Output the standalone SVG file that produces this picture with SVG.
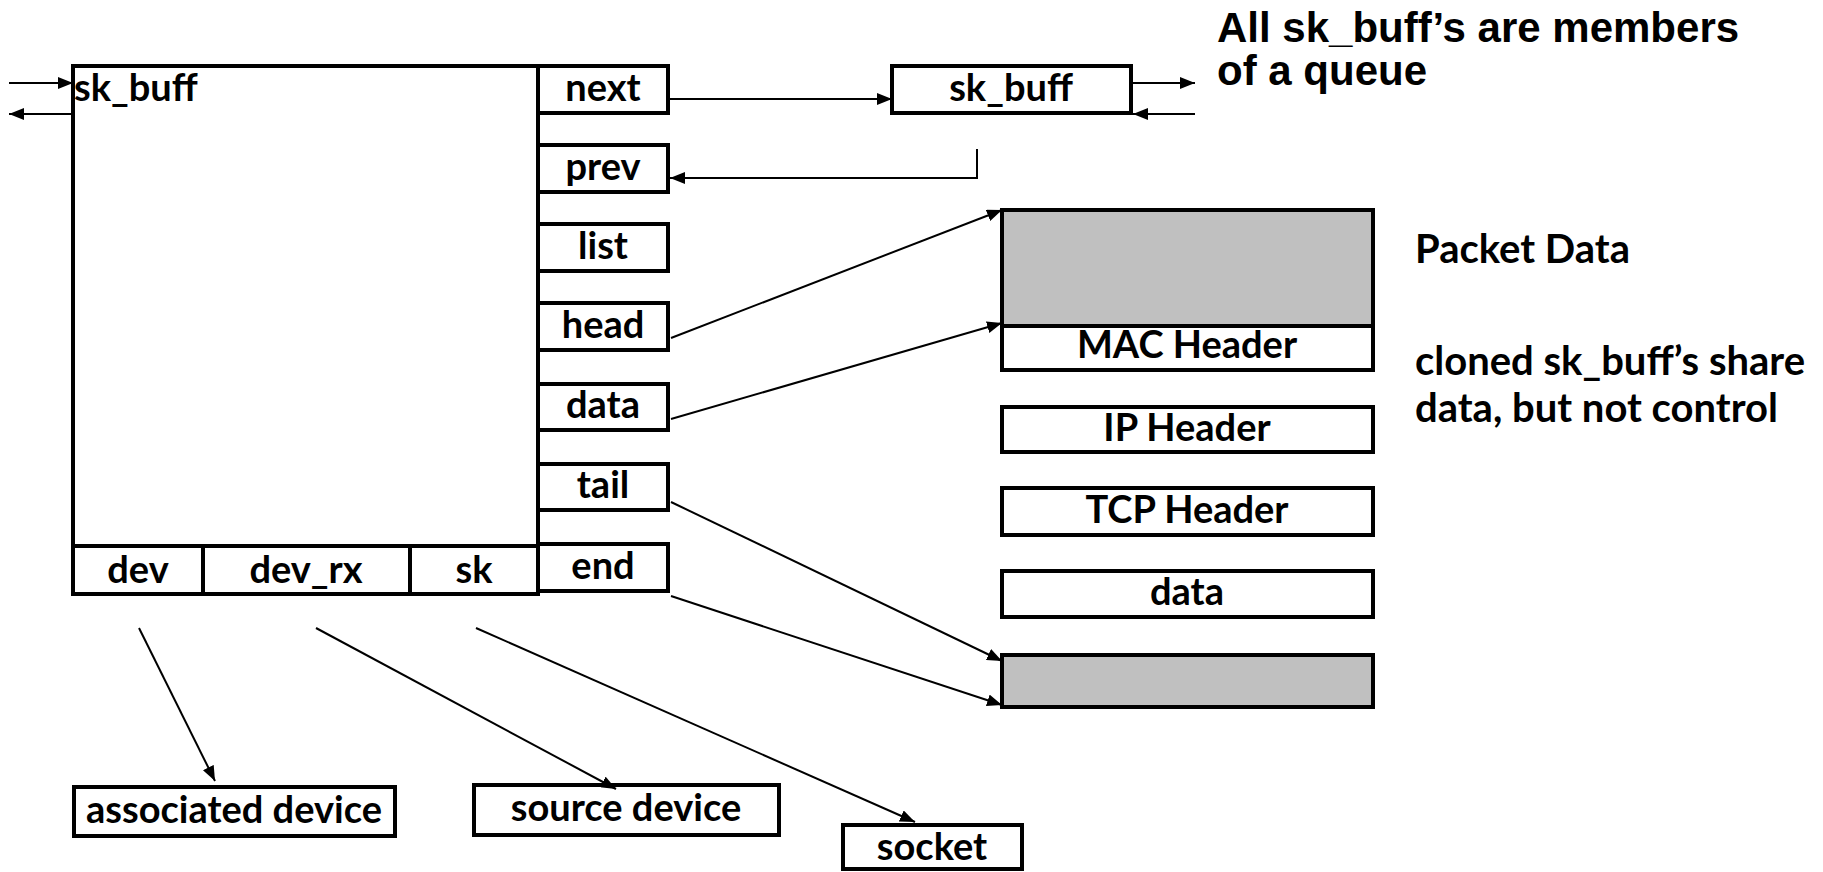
<svg xmlns="http://www.w3.org/2000/svg" width="1823" height="872" viewBox="0 0 1823 872">
  <style>
    .box { fill: #ffffff; stroke: #000000; stroke-width: 4; }
    .gray { fill: #c0c0c0; stroke: #000000; stroke-width: 4; }
    .lbl { font-family: Lato, "Open Sans", sans-serif; font-weight: bold; font-size: 38px; fill: #000000; text-anchor: middle; }
    .note { font-family: Lato, "Open Sans", sans-serif; font-weight: bold; font-size: 40px; fill: #000000; }
    .title { font-family: "Liberation Sans", Arial, sans-serif; font-weight: bold; font-size: 42px; fill: #000000; }
    .wire { fill: none; stroke: #000000; stroke-width: 2; }
  </style>
  <defs>
    <marker id="arr" markerUnits="userSpaceOnUse" markerWidth="16" markerHeight="12" refX="15" refY="6" orient="auto">
      <path d="M0,0 L15,6 L0,12 z" fill="#000000"/>
    </marker>
  </defs>
  <rect width="1823" height="872" fill="#ffffff"/>

  <!-- main sk_buff structure -->
  <g id="skbuff-main">
    <rect class="box" x="73" y="66" width="465" height="528"/>
    <line x1="73" y1="546" x2="538" y2="546" stroke="#000" stroke-width="4"/>
    <line x1="203" y1="546" x2="203" y2="594" stroke="#000" stroke-width="4"/>
    <line x1="410" y1="546" x2="410" y2="594" stroke="#000" stroke-width="4"/>
    <text class="lbl" x="74" y="101" style="text-anchor:start">sk_buff</text>
    <text class="lbl" x="138" y="583">dev</text>
    <text class="lbl" x="306" y="583">dev_rx</text>
    <text class="lbl" x="474" y="583">sk</text>
  </g>

  <!-- pointer fields -->
  <g id="field-next"><rect class="box" x="538" y="66" width="130" height="47"/><text class="lbl" x="603" y="101">next</text></g>
  <g id="field-prev"><rect class="box" x="538" y="145" width="130" height="47"/><text class="lbl" x="603" y="180">prev</text></g>
  <g id="field-list"><rect class="box" x="538" y="224" width="130" height="47"/><text class="lbl" x="603" y="259">list</text></g>
  <g id="field-head"><rect class="box" x="538" y="303" width="130" height="47"/><text class="lbl" x="603" y="338">head</text></g>
  <g id="field-data"><rect class="box" x="538" y="384" width="130" height="46"/><text class="lbl" x="603" y="418">data</text></g>
  <g id="field-tail"><rect class="box" x="538" y="464" width="130" height="46"/><text class="lbl" x="603" y="498">tail</text></g>
  <g id="field-end"><rect class="box" x="538" y="544" width="130" height="47"/><text class="lbl" x="603" y="579">end</text></g>

  <!-- neighbouring sk_buff in the queue -->
  <g id="skbuff-next">
    <rect class="box" x="892" y="66" width="239" height="47"/>
    <text class="lbl" x="1011" y="101">sk_buff</text>
  </g>

  <!-- packet data buffer -->
  <g id="packet-buffer">
    <rect class="gray" x="1002" y="210" width="371" height="116"/>
    <rect class="box" x="1002" y="326" width="371" height="44"/>
    <text class="lbl" x="1187" y="358">MAC Header</text>
  </g>
  <g id="ip-header"><rect class="box" x="1002" y="407" width="371" height="45"/><text class="lbl" x="1187" y="441">IP Header</text></g>
  <g id="tcp-header"><rect class="box" x="1002" y="488" width="371" height="47"/><text class="lbl" x="1187" y="523">TCP Header</text></g>
  <g id="payload"><rect class="box" x="1002" y="571" width="371" height="46"/><text class="lbl" x="1187" y="605">data</text></g>
  <g id="tailroom"><rect class="gray" x="1002" y="655" width="371" height="52"/></g>

  <!-- referenced objects -->
  <g id="assoc-device"><rect class="box" x="74" y="787" width="321" height="49"/><text class="lbl" x="234" y="823">associated device</text></g>
  <g id="source-device"><rect class="box" x="474" y="785" width="305" height="50"/><text class="lbl" x="626" y="821">source device</text></g>
  <g id="socket"><rect class="box" x="843" y="825" width="179" height="44"/><text class="lbl" x="932" y="860">socket</text></g>

  <!-- notes -->
  <g id="notes">
    <text class="title" x="1217" y="42">All sk_buff’s are members</text>
    <text class="title" x="1217" y="85">of a queue</text>
    <text class="note" x="1415" y="263">Packet Data</text>
    <text class="note" x="1415" y="375">cloned sk_buff’s share</text>
    <text class="note" x="1415" y="422">data, but not control</text>
  </g>

  <!-- connectors -->
  <g id="connectors">
    <line class="wire" x1="9" y1="83" x2="73" y2="83" marker-end="url(#arr)"/>
    <line class="wire" x1="73" y1="114" x2="9" y2="114" marker-end="url(#arr)"/>
    <line class="wire" x1="668" y1="99" x2="892" y2="99" marker-end="url(#arr)"/>
    <polyline class="wire" points="977,149 977,178 670,178" marker-end="url(#arr)"/>
    <line class="wire" x1="1133" y1="83" x2="1195" y2="83" marker-end="url(#arr)"/>
    <line class="wire" x1="1195" y1="114" x2="1133" y2="114" marker-end="url(#arr)"/>
    <line class="wire" x1="671" y1="338" x2="1002" y2="210" marker-end="url(#arr)"/>
    <line class="wire" x1="671" y1="419" x2="1002" y2="323" marker-end="url(#arr)"/>
    <line class="wire" x1="671" y1="502" x2="1002" y2="661" marker-end="url(#arr)"/>
    <line class="wire" x1="671" y1="596" x2="1002" y2="705" marker-end="url(#arr)"/>
    <line class="wire" x1="139" y1="628" x2="215" y2="781" marker-end="url(#arr)"/>
    <line class="wire" x1="316" y1="628" x2="616" y2="789" marker-end="url(#arr)"/>
    <line class="wire" x1="476" y1="628" x2="915" y2="822" marker-end="url(#arr)"/>
  </g>
</svg>
